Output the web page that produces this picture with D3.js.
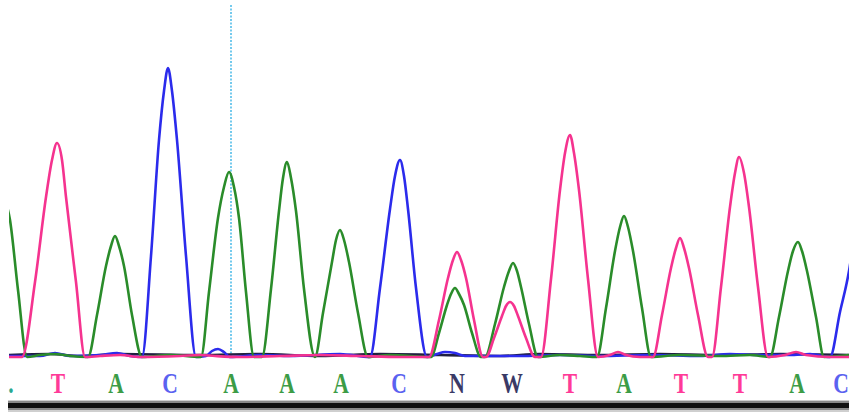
<!DOCTYPE html>
<html><head><meta charset="utf-8">
<script src="https://cdn.jsdelivr.net/npm/d3@7"></script>
<style>html,body{margin:0;padding:0;background:#fff;overflow:hidden}svg{display:block}</style>
</head><body>
<svg id="c" width="849" height="412"></svg>
<script>
// Base calls shown under the trace (edge fragments: "." at left, "C" at right)
const baseCalls = [".","T","A","C","A","A","A","C","N","W","T","A","T","T","A","C"];
const basePositions = [11,58,116,170,231,287,341,399,457,512,570,624,681,740,797,841];
// Cursor position (scan units)
const cursorPos = 231;

// Channel traces: [scan position, signal]
const traceT = [[9,0],[22,0],[35,75],[46,160],[52,197],[57,214],[62,197],[66,160],[76,75],[85,0],[100,1],[120,2],[140,0],[180,1],[200,2],[215,1],[240,0],[280,1],[320,2],[360,1],[400,0],[429,0],[439,37],[448,79],[453,97],[457,105],[461,97],[466,79],[474,37],[483,0],[486,0],[494,19],[502,41],[506,51],[510,55],[514,51],[518,41],[526,19],[535,0],[541,0],[551,78],[560,167],[565,204],[570,222],[574,204],[579,167],[588,78],[598,0],[610,2],[618,5],[626,2],[640,0],[653,0],[662,42],[671,89],[676,109],[680,119],[684,109],[689,89],[698,42],[708,0],[712,0],[721,70],[730,150],[735,184],[739,200],[744,184],[749,150],[758,70],[768,0],[785,2],[796,5],[806,2],[830,0],[849,0]];
const traceA = [[0,180],[4,162],[10,137],[18,67],[27,0],[40,2],[55,3],[70,1],[88,0],[97,42],[106,91],[111,111],[115,121],[119,111],[124,91],[132,42],[142,0],[170,2],[201,0],[209,65],[218,139],[224,170],[229,185],[234,170],[239,139],[246,65],[254,0],[262,0],[271,68],[279,146],[283,179],[287,195],[291,179],[296,146],[304,68],[315,0],[323,44],[332,95],[336,117],[340,127],[344,117],[349,95],[358,44],[368,0],[390,2],[431,0],[439,24],[447,52],[451,63],[455,69],[459,63],[464,52],[472,24],[481,0],[485,0],[495,33],[504,70],[509,86],[513,94],[517,86],[521,70],[529,33],[538,0],[560,2],[580,1],[597,0],[606,49],[615,106],[620,130],[624,141],[628,130],[633,106],[642,49],[651,0],[680,2],[720,1],[750,2],[770,0],[779,40],[788,86],[793,106],[798,115],[802,106],[807,86],[816,40],[824,0],[849,2]];
const traceC = [[9,1],[40,1],[55,4],[70,1],[100,2],[117,4],[130,1],[142,0],[151,101],[159,217],[164,266],[168,289],[172,266],[177,217],[186,101],[196,0],[206,1],[212,6],[218,8],[224,5],[230,0],[260,2],[290,1],[340,3],[370,0],[380,69],[390,148],[395,181],[400,197],[404,181],[408,148],[416,69],[427,0],[437,3],[445,5],[455,4],[465,1],[520,1],[560,2],[600,1],[650,2],[700,1],[730,3],[760,2],[790,2],[810,3],[830,0],[840,45],[849,86],[860,170]];
const traceG = [[9,2],[50,3],[80,1],[120,3],[200,2],[260,3],[320,1],[380,3],[440,2],[500,1],[540,3],[600,2],[660,3],[720,2],[780,3],[849,2]];

const svg = d3.select("#c");
const x = d3.scaleLinear().domain([0,849]).range([0,849]);
const y = d3.scaleLinear().domain([0,300]).range([357,57]);

const colors = {A:"#2a8c2a", C:"#2b2bec", T:"#f5338f", G:"#202040"};
const letterColors = {A:"#3c9c46", C:"#5a62f0", T:"#ff3a98", N:"#3a3a66", W:"#3a3a66", ".":"#2aa890"};

svg.append("defs").append("clipPath").attr("id","plot")
  .append("rect").attr("x",9).attr("y",0).attr("width",840).attr("height",362);

const line = d3.line().x(d=>x(d[0])).y(d=>y(d[1])).curve(d3.curveMonotoneX);
const g = svg.append("g").attr("clip-path","url(#plot)");

// cursor
g.append("line").attr("x1",x(cursorPos)).attr("x2",x(cursorPos))
  .attr("y1",5).attr("y2",y(0))
  .attr("stroke","#3ab4e6").attr("stroke-width",1.4).attr("stroke-dasharray","2,1.5");

[[traceG,colors.G],[traceC,colors.C],[traceA,colors.A],[traceT,colors.T]].forEach(([d,c])=>{
  g.append("path").datum(d).attr("d",line).attr("fill","none")
   .attr("stroke",c).attr("stroke-width",2.6).attr("stroke-linejoin","round");
});

// base call labels
svg.append("g").selectAll("text").data(baseCalls).join("text")
  .attr("transform",(d,i)=>`translate(${x(basePositions[i])},393) scale(0.72,1)`)
  .attr("text-anchor","middle")
  .attr("font-family","'Liberation Serif', serif")
  .attr("font-weight","bold").attr("font-size",30)
  .attr("fill",d=>letterColors[d])
  .text(d=>d);

// bottom rule
svg.append("rect").attr("x",8).attr("y",400).attr("width",841).attr("height",12).attr("fill","#cfcfcf");
svg.append("rect").attr("x",8).attr("y",401).attr("width",841).attr("height",9).attr("fill","#8a8a8a");
svg.append("rect").attr("x",8).attr("y",403).attr("width",841).attr("height",5).attr("fill","#111");
</script>
</body></html>
